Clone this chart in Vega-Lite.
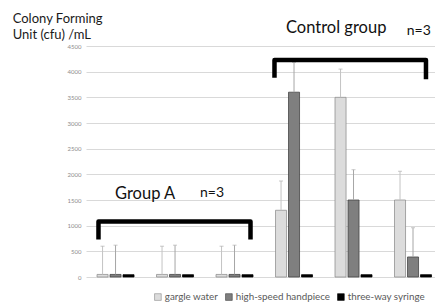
{
  "$schema": "https://vega.github.io/schema/vega-lite/v6.json",
  "autosize": {"type": "none"},
  "padding": {"left": 86, "top": 46, "right": 0, "bottom": 30},
  "width": 349,
  "height": 231,
  "background": "white",
  "config": {"view": {"stroke": null}, "font": "Lato"},
  "datasets": {
    "bars": [
      {"group": "1", "series": "gargle water", "cfu": 50, "err": 600},
      {"group": "1", "series": "high-speed handpiece", "cfu": 50, "err": 620},
      {"group": "1", "series": "three-way syringe", "cfu": 45, "err": null},
      {"group": "2", "series": "gargle water", "cfu": 50, "err": 600},
      {"group": "2", "series": "high-speed handpiece", "cfu": 50, "err": 620},
      {"group": "2", "series": "three-way syringe", "cfu": 45, "err": null},
      {"group": "3", "series": "gargle water", "cfu": 50, "err": 600},
      {"group": "3", "series": "high-speed handpiece", "cfu": 50, "err": 620},
      {"group": "3", "series": "three-way syringe", "cfu": 45, "err": null},
      {"group": "4", "series": "gargle water", "cfu": 1300, "err": 1870},
      {"group": "4", "series": "high-speed handpiece", "cfu": 3600, "err": 4180},
      {"group": "4", "series": "three-way syringe", "cfu": 45, "err": null},
      {"group": "5", "series": "gargle water", "cfu": 3500, "err": 4050},
      {"group": "5", "series": "high-speed handpiece", "cfu": 1500, "err": 2090},
      {"group": "5", "series": "three-way syringe", "cfu": 45, "err": null},
      {"group": "6", "series": "gargle water", "cfu": 1500, "err": 2060},
      {"group": "6", "series": "high-speed handpiece", "cfu": 390, "err": 960},
      {"group": "6", "series": "three-way syringe", "cfu": 45, "err": null}
    ],
    "brackets": [
      {"bracket": "A", "k": 1, "gx": 0.714, "cfu": 730},
      {"bracket": "A", "k": 2, "gx": 0.714, "cfu": 1081},
      {"bracket": "A", "k": 3, "gx": 3.269, "cfu": 1081},
      {"bracket": "A", "k": 4, "gx": 3.269, "cfu": 730},
      {"bracket": "C", "k": 1, "gx": 3.672, "cfu": 3880},
      {"bracket": "C", "k": 2, "gx": 3.672, "cfu": 4227},
      {"bracket": "C", "k": 3, "gx": 6.218, "cfu": 4227},
      {"bracket": "C", "k": 4, "gx": 6.218, "cfu": 3850}
    ],
    "bigLabels": [
      {"label": "Group A", "gx": 0.992, "cfu": 1520},
      {"label": "Control group", "gx": 3.865, "cfu": 4748}
    ],
    "nLabels": [
      {"label": "n=3", "gx": 2.42, "cfu": 1560},
      {"label": "n=3", "gx": 5.894, "cfu": 4715}
    ],
    "titleLines": [
      {"label": "Colony Forming", "gx": -0.728, "cfu": 4943},
      {"label": "Unit (cfu) /mL", "gx": -0.728, "cfu": 4631}
    ]
  },
  "encoding": {
    "y": {
      "field": "cfu",
      "type": "quantitative",
      "title": null,
      "scale": {"domain": [0, 4500], "nice": false, "zero": true},
      "axis": {
        "values": [0, 500, 1000, 1500, 2000, 2500, 3000, 3500, 4000, 4500],
        "format": "d",
        "domain": false,
        "ticks": false,
        "grid": true,
        "gridColor": "#d9d9d9",
        "gridWidth": 1,
        "labelFont": "Lato",
        "labelFontSize": 6,
        "labelColor": "#8c8c8c",
        "labelPadding": 5
      }
    }
  },
  "layer": [
    {
      "data": {"name": "bars"},
      "mark": {"type": "bar", "strokeWidth": 0.75},
      "encoding": {
        "x": {"field": "group", "type": "nominal", "axis": null,
              "scale": {"paddingInner": 0.378, "paddingOuter": 0.122, "align": 0.76}},
        "xOffset": {"field": "series", "type": "nominal",
                    "scale": {"paddingInner": 0.15, "paddingOuter": 0}},
        "fill": {
          "field": "series", "type": "nominal",
          "scale": {"domain": ["gargle water", "high-speed handpiece", "three-way syringe"],
                    "range": ["#dcdcdc", "#7f7f7f", "#000000"]},
          "legend": {
            "orient": "none", "direction": "horizontal", "legendX": 67, "legendY": 246,
            "title": null, "symbolType": "square", "symbolSize": 45,
            "symbolStrokeWidth": 0.6,
            "labelFont": "Lato", "labelFontSize": 9.8, "labelColor": "#595959",
            "labelOffset": 2, "columnPadding": 6
          }
        },
        "stroke": {
          "field": "series", "type": "nominal",
          "scale": {"domain": ["gargle water", "high-speed handpiece", "three-way syringe"],
                    "range": ["#8c8c8c", "#3f3f3f", "#000000"]},
          "legend": null
        }
      }
    },
    {
      "data": {"name": "bars"},
      "transform": [{"filter": "datum.series === 'gargle water'"}],
      "mark": {"type": "rule", "stroke": "#c4c4c4", "strokeWidth": 1},
      "encoding": {
        "x": {"field": "group", "type": "nominal", "axis": null,
              "scale": {"paddingInner": 0.378, "paddingOuter": 0.122, "align": 0.76}},
        "xOffset": {"field": "series", "type": "nominal",
                    "scale": {"paddingInner": 0.15, "paddingOuter": 0}},
        "y2": {"field": "err"}
      }
    },
    {
      "data": {"name": "bars"},
      "transform": [{"filter": "datum.series === 'high-speed handpiece'"}],
      "mark": {"type": "rule", "stroke": "#a6a6a6", "strokeWidth": 1},
      "encoding": {
        "x": {"field": "group", "type": "nominal", "axis": null,
              "scale": {"paddingInner": 0.378, "paddingOuter": 0.122, "align": 0.76}},
        "xOffset": {"field": "series", "type": "nominal",
                    "scale": {"paddingInner": 0.15, "paddingOuter": 0}},
        "y2": {"field": "err"}
      }
    },
    {
      "data": {"name": "bars"},
      "transform": [{"filter": "datum.err != null"}],
      "mark": {"type": "tick", "orient": "horizontal", "size": 4, "thickness": 1, "color": "#b0b0b0"},
      "encoding": {
        "x": {"field": "group", "type": "nominal", "axis": null,
              "scale": {"paddingInner": 0.378, "paddingOuter": 0.122, "align": 0.76}},
        "xOffset": {"field": "series", "type": "nominal",
                    "scale": {"paddingInner": 0.15, "paddingOuter": 0}},
        "y": {"field": "err", "type": "quantitative", "title": null}
      }
    },
    {
      "data": {"name": "brackets"},
      "mark": {"type": "line", "color": "#000000", "strokeWidth": 4.5, "strokeJoin": "round", "strokeCap": "butt"},
      "encoding": {
        "x": {"field": "gx", "type": "quantitative", "axis": null,
              "scale": {"domain": [0.5042, 6.3697], "nice": false, "zero": false}},
        "detail": {"field": "bracket"},
        "order": {"field": "k"}
      }
    },
    {
      "data": {"name": "bigLabels"},
      "mark": {"type": "text", "align": "left", "baseline": "alphabetic", "font": "Lato", "fontSize": 16.5, "color": "#111111"},
      "encoding": {
        "x": {"field": "gx", "type": "quantitative", "axis": null,
              "scale": {"domain": [0.5042, 6.3697], "nice": false, "zero": false}},
        "text": {"field": "label"}
      }
    },
    {
      "data": {"name": "nLabels"},
      "mark": {"type": "text", "align": "left", "baseline": "alphabetic", "font": "Lato", "fontSize": 14, "color": "#111111"},
      "encoding": {
        "x": {"field": "gx", "type": "quantitative", "axis": null,
              "scale": {"domain": [0.5042, 6.3697], "nice": false, "zero": false}},
        "text": {"field": "label"}
      }
    },
    {
      "data": {"name": "titleLines"},
      "mark": {"type": "text", "align": "left", "baseline": "alphabetic", "font": "Lato", "fontSize": 13, "color": "#1a1a1a"},
      "encoding": {
        "x": {"field": "gx", "type": "quantitative", "axis": null,
              "scale": {"domain": [0.5042, 6.3697], "nice": false, "zero": false}},
        "text": {"field": "label"}
      }
    }
  ],
  "resolve": {"scale": {"x": "independent"}}
}
